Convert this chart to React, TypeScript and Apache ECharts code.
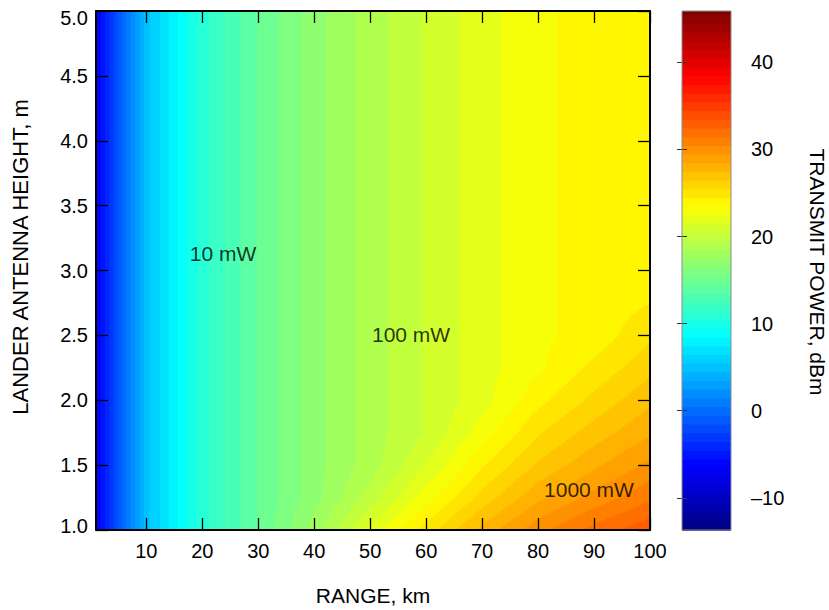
import React, { useEffect, useRef } from "react";
import * as echarts from "echarts";

// ---- data ----
// grid nodes of the transmit-power field (dBm): rows = heights, columns = ranges
const rangeKm = [1, 10, 20, 30, 40, 50, 60, 70, 80, 90, 100];
const heightM = [1.0, 1.25, 1.5, 1.75, 2.0, 2.25, 2.5, 2.75, 3.0, 5.0];
const powerDbm = [
  [-6.5, 5.1, 11.1, 14.6, 18.0, 21.9, 25.0, 27.9, 30.2, 31.9, 33.3], // 1.00 m
  [-6.5, 5.1, 11.1, 14.6, 17.1, 19.9, 23.1, 25.9, 28.3, 29.9, 31.3], // 1.25 m
  [-6.5, 5.1, 11.1, 14.6, 17.1, 19.0, 21.5, 24.4, 26.7, 28.3, 29.8], // 1.50 m
  [-6.5, 5.1, 11.1, 14.6, 17.1, 19.0, 20.6, 23.0, 25.4, 27.0, 28.4], // 1.75 m
  [-6.5, 5.1, 11.1, 14.6, 17.1, 19.0, 20.6, 22.1, 24.2, 25.8, 27.3], // 2.00 m
  [-6.5, 5.1, 11.1, 14.6, 17.1, 19.0, 20.6, 22.1, 23.3, 24.8, 26.2], // 2.25 m
  [-6.5, 5.1, 11.1, 14.6, 17.1, 19.0, 20.6, 22.1, 23.3, 23.9, 25.3], // 2.50 m
  [-6.5, 5.1, 11.1, 14.6, 17.1, 19.0, 20.6, 22.1, 23.3, 23.9, 24.5], // 2.75 m
  [-6.5, 5.1, 11.1, 14.6, 17.1, 19.0, 20.6, 22.1, 23.3, 23.9, 24.4], // 3.00 m
  [-6.5, 5.1, 11.1, 14.6, 17.1, 19.0, 20.6, 22.1, 23.3, 23.9, 24.4], // 5.00 m
];
const contourStepDb = 1;
const contourOffsetDb = 0.5;
const colorbarRange = [-13.7, 45.9];
const colorbarTicks = [-10, 0, 10, 20, 30, 40];
const xTicks = [10, 20, 30, 40, 50, 60, 70, 80, 90, 100];
const yTicks = [1.0, 1.5, 2.0, 2.5, 3.0, 3.5, 4.0, 4.5, 5.0];
const annotationText = ["10 mW", "100 mW", "1000 mW"];
const annotationRange = [23.7, 57.3, 89.1];
const annotationHeight = [3.13, 2.51, 1.31];

const FONT = '"Liberation Sans", Arial, Helvetica, sans-serif';

function jet(t: number): string {
  const c = (v: number) => Math.round(255 * Math.max(0, Math.min(1, v)));
  const r = c(1.5 - Math.abs(4 * t - 3));
  const g = c(1.5 - Math.abs(4 * t - 2));
  const b = c(1.5 - Math.abs(4 * t - 1));
  return `rgb(${r},${g},${b})`;
}

function levelOf(v: number): number {
  return Math.floor((v - contourOffsetDb) / contourStepDb);
}

function levelColor(level: number): string {
  const mid = (level + 0.5) * contourStepDb + contourOffsetDb;
  const t = (mid - colorbarRange[0]) / (colorbarRange[1] - colorbarRange[0]);
  return jet(Math.max(0, Math.min(1, t)));
}

function fieldAt(x: number, h: number): number {
  let i = 0;
  while (i < rangeKm.length - 2 && x > rangeKm[i + 1]) i++;
  let j = 0;
  while (j < heightM.length - 2 && h > heightM[j + 1]) j++;
  const tx = (x - rangeKm[i]) / (rangeKm[i + 1] - rangeKm[i]);
  const ty = (h - heightM[j]) / (heightM[j + 1] - heightM[j]);
  const a = powerDbm[j][i];
  const b = powerDbm[j][i + 1];
  const c = powerDbm[j + 1][i];
  const d = powerDbm[j + 1][i + 1];
  return a * (1 - tx) * (1 - ty) + b * tx * (1 - ty) + c * (1 - tx) * ty + d * tx * ty;
}

// filled-contour cells: [x0, x1, y0, y1, level]
function buildCells(): number[][] {
  const cells: number[][] = [];
  const x0 = rangeKm[0];
  const x1 = rangeKm[rangeKm.length - 1];
  const y0 = heightM[0];
  const y1 = heightM[heightM.length - 1];
  const nx = 495;
  const ny = 400;
  const dx = (x1 - x0) / nx;
  const dy = (y1 - y0) / ny;
  for (let i = 0; i < nx; i++) {
    const xa = x0 + i * dx;
    const xc = xa + dx / 2;
    let runStart = y0;
    let runLevel = levelOf(fieldAt(xc, y0 + dy / 2));
    for (let j = 1; j <= ny; j++) {
      const ya = y0 + j * dy;
      const lvl = j < ny ? levelOf(fieldAt(xc, ya + dy / 2)) : NaN;
      if (lvl !== runLevel) {
        cells.push([xa, xa + dx, runStart, ya, runLevel]);
        runStart = ya;
        runLevel = lvl;
      }
    }
  }
  return cells;
}

function buildBands(): number[][] {
  const bands: number[][] = [];
  const lo = levelOf(colorbarRange[0]);
  const hi = levelOf(colorbarRange[1]);
  for (let k = lo; k <= hi; k++) {
    const a = Math.max(k * contourStepDb + contourOffsetDb, colorbarRange[0]);
    const b = Math.min((k + 1) * contourStepDb + contourOffsetDb, colorbarRange[1]);
    if (b > a) bands.push([a, b, k]);
  }
  return bands;
}

export default function App() {
  const ref = useRef<HTMLDivElement>(null);

  useEffect(() => {
    if (!ref.current) return;
    const chart = echarts.init(ref.current, null, { renderer: "svg" });
    const cells = buildCells();
    const bands = buildBands();

    const axisLineMain = { show: true, lineStyle: { color: "#000", width: 2 } };
    const tickMain = { show: true, inside: true, length: 12, lineStyle: { color: "#000", width: 1.3 } };
    const labelBase = { fontFamily: FONT, fontSize: 20, color: "#000" };

    const option: any = {
      animation: false,
      backgroundColor: "#fff",
      grid: [
        { left: 96, top: 11, width: 554, height: 519 },
        { left: 682, top: 11, width: 49, height: 519 },
      ],
      xAxis: [
        {
          gridIndex: 0, type: "value", min: rangeKm[0], max: rangeKm[rangeKm.length - 1],
          splitNumber: 10, position: "bottom", z: 10,
          axisLine: axisLineMain, axisTick: tickMain, splitLine: { show: false },
          axisLabel: {
            ...labelBase, margin: 11,
            formatter: (v: number) => (xTicks.includes(v) ? String(v) : ""),
          },
        },
        {
          gridIndex: 0, type: "value", min: rangeKm[0], max: rangeKm[rangeKm.length - 1],
          splitNumber: 10, position: "top", z: 10,
          axisLine: axisLineMain, axisTick: tickMain, splitLine: { show: false },
          axisLabel: { show: false },
        },
        { gridIndex: 1, type: "value", min: 0, max: 1, show: false },
      ],
      yAxis: [
        {
          gridIndex: 0, type: "value", min: yTicks[0], max: yTicks[yTicks.length - 1],
          interval: 0.5, position: "left", z: 10,
          axisLine: axisLineMain, axisTick: tickMain, splitLine: { show: false },
          axisLabel: {
            ...labelBase, margin: 8,
            formatter: (v: number) => {
              const s = v.toFixed(1);
              if (v === yTicks[yTicks.length - 1]) return "{top|" + s + "}";
              if (v === yTicks[0]) return "{bot|" + s + "}";
              return s;
            },
            rich: {
              top: { ...labelBase, padding: [13, 0, 0, 0] },
              bot: { ...labelBase, padding: [0, 0, 8, 0] },
            },
          },
        },
        {
          gridIndex: 0, type: "value", min: yTicks[0], max: yTicks[yTicks.length - 1],
          interval: 0.5, position: "right", z: 10,
          axisLine: axisLineMain, axisTick: tickMain, splitLine: { show: false },
          axisLabel: { show: false },
        },
        {
          gridIndex: 1, type: "value", min: colorbarRange[0], max: colorbarRange[1],
          splitNumber: 6, position: "right", z: 10,
          axisLine: { show: false }, splitLine: { show: false },
          axisTick: { show: true, inside: true, length: 5, lineStyle: { color: "#333", width: 1 } },
          axisLabel: {
            ...labelBase, margin: 20, showMinLabel: false, showMaxLabel: false,
            formatter: (v: number) =>
              colorbarTicks.includes(v) ? (v < 0 ? "\u2013" + Math.abs(v) : String(v)) : "",
          },
        },
        {
          gridIndex: 1, type: "value", min: colorbarRange[0], max: colorbarRange[1],
          splitNumber: 6, position: "left", z: 10,
          axisLine: { show: false }, splitLine: { show: false },
          axisTick: { show: true, inside: true, length: 5, lineStyle: { color: "#333", width: 1 } },
          axisLabel: { show: false },
        },
      ],
      series: [
        {
          type: "custom",
          xAxisIndex: 0,
          yAxisIndex: 0,
          silent: true,
          data: cells,
          dimensions: ["x0", "x1", "y0", "y1", "level"],
          encode: { x: [0, 1], y: [2, 3] },
          renderItem: (params: any, api: any) => {
            const p0 = api.coord([api.value(0), api.value(3)]);
            const p1 = api.coord([api.value(1), api.value(2)]);
            return {
              type: "rect",
              shape: { x: p0[0], y: p0[1], width: p1[0] - p0[0] + 0.8, height: p1[1] - p0[1] + 0.8 },
              style: { fill: levelColor(api.value(4)) },
            };
          },
        },
        {
          type: "custom",
          xAxisIndex: 2,
          yAxisIndex: 2,
          silent: true,
          data: bands,
          dimensions: ["lo", "hi", "level"],
          encode: { y: [0, 1] },
          renderItem: (params: any, api: any) => {
            const pTop = api.coord([0, api.value(1)]);
            const pBot = api.coord([1, api.value(0)]);
            return {
              type: "rect",
              shape: { x: pTop[0], y: pTop[1], width: pBot[0] - pTop[0], height: pBot[1] - pTop[1] + 0.8 },
              style: { fill: levelColor(api.value(2)) },
            };
          },
        },
        {
          type: "scatter",
          xAxisIndex: 0,
          yAxisIndex: 0,
          silent: true,
          z: 5,
          symbolSize: 0,
          data: annotationText.map((t, i) => ({ name: t, value: [annotationRange[i], annotationHeight[i]] })),
          label: {
            show: true, position: "inside", formatter: "{b}",
            fontFamily: FONT, fontSize: 21, color: "#000",
          },
        },
      ],
      graphic: [
        {
          type: "rect", z: 100, silent: true,
          shape: { x: 682, y: 11, width: 49, height: 519 },
          style: { fill: "none", stroke: "#8c8c8c", lineWidth: 1 },
        },
        {
          type: "text", z: 100, x: 373, y: 595,
          style: { text: "RANGE, km", fontFamily: FONT, fontSize: 21, fill: "#000", align: "center", verticalAlign: "middle" },
        },
        {
          type: "text", z: 100, x: 20, y: 257, rotation: Math.PI / 2,
          style: { text: "LANDER ANTENNA HEIGHT, m", fontFamily: FONT, fontSize: 22, fill: "#000", align: "center", verticalAlign: "middle" },
        },
        {
          type: "text", z: 100, x: 817, y: 272, rotation: -Math.PI / 2,
          style: { text: "TRANSMIT POWER, dBm", fontFamily: FONT, fontSize: 21, fill: "#000", align: "center", verticalAlign: "middle" },
        },
      ],
    };
    chart.setOption(option);
    return () => chart.dispose();
  }, []);

  return (
    <div
      ref={ref}
      style={{ position: "fixed", left: 0, top: 0, width: 829, height: 610, background: "#fff" }}
    />
  );
}
